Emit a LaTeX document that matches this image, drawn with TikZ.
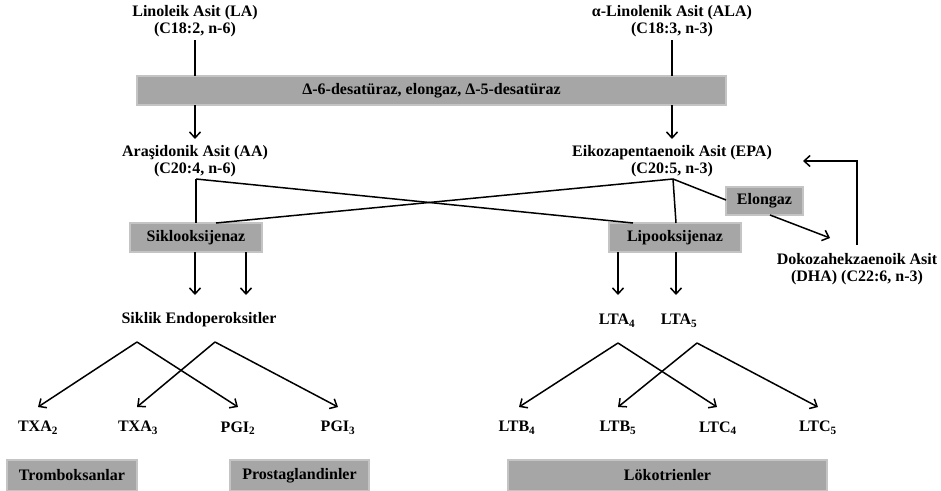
\documentclass[tikz,border=0pt]{standalone}
\usepackage{fontspec}
\setmainfont{Liberation Serif}
\usetikzlibrary{arrows.meta}
\begin{document}
\begin{tikzpicture}[x=1pt,y=-1pt,
  every node/.style={font=\fontsize{16}{17}\selectfont\bfseries, inner sep=0pt},
  lbl/.style={align=center},
  gbox/.style={fill=boxgray, draw=boxedge, line width=1.2pt},
  ln/.style={line width=1.5pt, draw=black},
  arr/.style={ln, -{Straight Barb[length=6pt,width=11pt,line width=1.5pt]}}
]
\definecolor{boxgray}{HTML}{A6A6A6}
\definecolor{boxedge}{HTML}{C4C4C4}
\useasboundingbox (0,0) rectangle (941,490);

% top texts
\node[lbl] (la) at (195,21) {Linoleik Asit (LA)\\(C18:2, n-6)};
\node[lbl] (ala) at (672,21) {α-Linolenik Asit (ALA)\\(C18:3, n-3)};

% banner
\path[gbox] (137,76) rectangle (726,105);
\node (banner) at (431.5,90.5) {Δ-6-desatüraz, elongaz, Δ-5-desatüraz};
\coordinate (bantopL) at (195,76);
\coordinate (banbotL) at (195,105);
\coordinate (bantopR) at (672,76);
\coordinate (banbotR) at (672,105);

\node[lbl] (aa) at (195,161.5) {Araşidonik Asit (AA)\\(C20:4, n-6)};
\node[lbl] (epa) at (672,161.5) {Eikozapentaenoik Asit (EPA)\\(C20:5, n-3)};

% enzyme boxes
\path[gbox] (130,223) rectangle (262,252);
\node (sikl) at (196,237.5) {Siklooksijenaz};
\path[gbox] (609,223) rectangle (741,252);
\node (lipo) at (675,237.5) {Lipooksijenaz};
\path[gbox] (726,187) rectangle (803,215);
\node (elon) at (764.5,201) {Elongaz};

\node[lbl] (dha) at (857,269.5) {Dokozahekzaenoik Asit\\(DHA) (C22:6, n-3)};

% junction coordinates
\coordinate (aaj) at (196,179);
\coordinate (epaj) at (673,179);
\coordinate (siklA) at (196,223);
\coordinate (siklB) at (216,223);
\coordinate (lipoA) at (633,223);
\coordinate (lipoB) at (676,223);
\coordinate (elonW) at (726,200);
\coordinate (elonS) at (770,215);
\coordinate (dhaTip) at (830,238);
\coordinate (dhaUp) at (857,245);
\coordinate (dhaCorner) at (857,161);
\coordinate (epaTip) at (803,161);

% top connectors
\draw[ln] (195,40) -- (bantopL);
\draw[arr] (banbotL) -- (195,139);
\draw[ln] (672,40) -- (bantopR);
\draw[arr] (banbotR) -- (672,139);

\draw[ln] (aaj) -- (siklA);
\draw[ln] (aaj) -- (lipoA);
\draw[ln] (epaj) -- (lipoB);
\draw[ln] (epaj) -- (siklB);
\draw[ln] (epaj) -- (elonW);
\draw[arr] (elonS) -- (dhaTip);
\draw[arr] (dhaUp) -- (dhaCorner) -- (epaTip);

% lower left
\node (endo) at (199,320) {Siklik Endoperoksitler};
\draw[arr] (195,252) -- (195,295);
\draw[arr] (246,252) -- (246,295);
\coordinate (endoA) at (137,342);
\coordinate (endoB) at (215,342);
\node (txa2) at (38,428) {TXA\textsubscript{2}};
\node (txa3) at (138,428) {TXA\textsubscript{3}};
\node (pgi2) at (238,428) {PGI\textsubscript{2}};
\node (pgi3) at (338,428) {PGI\textsubscript{3}};
\draw[arr] (endoA) -- (38,407);
\draw[arr] (endoA) -- (238,407);
\draw[arr] (endoB) -- (137,407);
\draw[arr] (endoB) -- (338,407);

% lower right
\node (lta4) at (617,321) {LTA\textsubscript{4}};
\node (lta5) at (679,321) {LTA\textsubscript{5}};
\draw[arr] (618,252) -- (618,295);
\draw[arr] (676,252) -- (676,295);
\coordinate (ltaA) at (618,343);
\coordinate (ltaB) at (697,343);
\node (ltb4) at (517,428) {LTB\textsubscript{4}};
\node (ltb5) at (618,428) {LTB\textsubscript{5}};
\node (ltc4) at (718,428) {LTC\textsubscript{4}};
\node (ltc5) at (818,428) {LTC\textsubscript{5}};
\draw[arr] (ltaA) -- (519,407);
\draw[arr] (ltaA) -- (717,407);
\draw[arr] (ltaB) -- (618,407);
\draw[arr] (ltaB) -- (818,407);

% bottom category boxes
\path[gbox] (7,460) rectangle (137,491);
\node (trom) at (72,475.5) {Tromboksanlar};
\path[gbox] (230,460) rectangle (369,491);
\node (prost) at (299.5,475.5) {Prostaglandinler};
\path[gbox] (508,460) rectangle (827,491);
\node (loko) at (667.5,475.5) {Lökotrienler};
\end{tikzpicture}
\end{document}
